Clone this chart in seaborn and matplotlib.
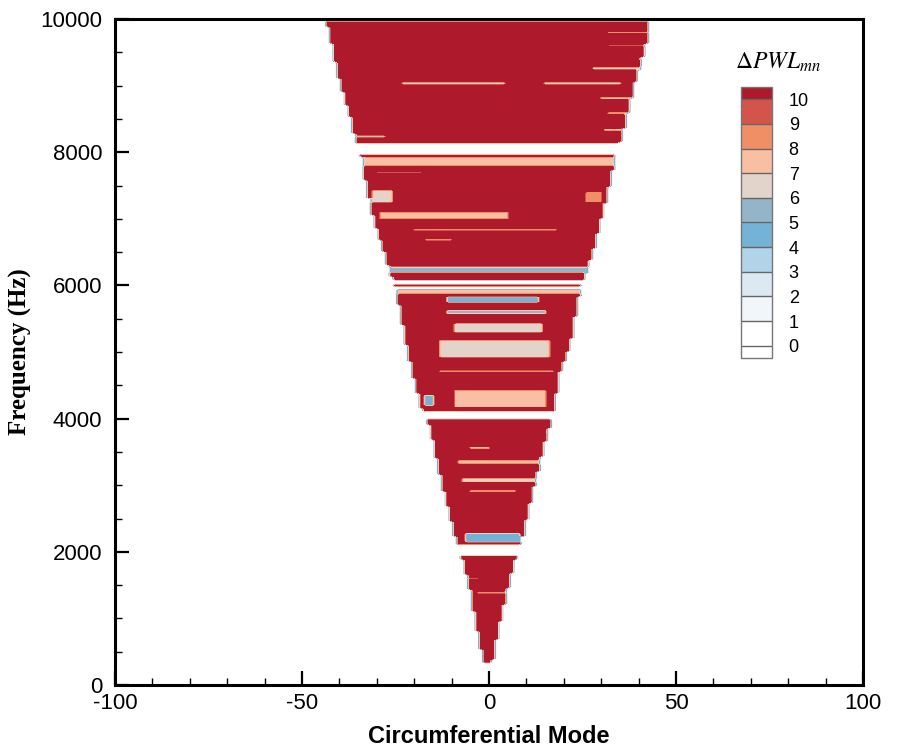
import numpy as np
import matplotlib
matplotlib.use("Agg")
import matplotlib.pyplot as plt
import seaborn as sns

# cut-on edge of the mode map (Hz, circumferential mode)
edge_freq = [330, 570, 930, 1425, 1875, 2200, 2670, 3180, 3875, 4175, 4685, 5170,
             5850, 6230, 6560, 7060, 7550, 7910, 8150, 8560, 9050, 9560, 9950]
edge_left = [-0.5, -1.6, -2.9, -4.5, -6.4, -8.3, -10.4, -12.6, -15.2, -17.6, -19.8, -21.7,
             -24.0, -26.0, -27.8, -30.5, -32.4, -33.2, -35.0, -36.6, -39.3, -41.2, -42.8]
edge_right = [0.3, 1.0, 2.4, 4.3, 6.4, 8.3, 10.2, 12.3, 15.5, 16.8, 18.4, 21.4,
              23.5, 25.7, 27.5, 29.7, 31.8, 33.2, 34.5, 36.4, 38.5, 41.2, 42.5]
base_level = 12  # most of the map is above 10 dB

# bands where dPWL drops (freq lo, freq hi, mode lo, mode hi, level)
band_flo = [7960, 6020, 5945, 3980, 1950,
            7800, 6200, 5870, 5740, 5560, 5300, 4920, 4680, 4170, 4200,
            3530, 3780, 3320, 3050, 2890, 2130, 1360, 1580,
            9020, 9020, 9780, 9580, 9380, 9250, 8800, 8560, 8320,
            8210, 7680, 7250, 7250, 6980, 6810, 6660]
band_fhi = [8140, 6080, 5985, 4100, 2100,
            7930, 6280, 5930, 5830, 5630, 5440, 5180, 4730, 4430, 4350,
            3590, 3820, 3380, 3110, 2930, 2280, 1400, 1620,
            9060, 9060, 9820, 9620, 9420, 9290, 8840, 8600, 8360,
            8250, 7720, 7430, 7400, 7100, 6850, 6700]
band_mlo = [-50, -50, -50, -50, -50,
            -50, -50, -24.6, -11, -11, -9.6, -13, -13, -9.6, -17,
            -5, 11, -8, -7, -5, -6, -3, -5,
            -23, 15, 32, 32, 30, 28, 30, 32, 31,
            -35, -30, -31, 25.7, -29, -20, -17]
band_mhi = [50, 50, 50, 50, 50,
            50, 50, 24.3, 13, 15, 14.4, 16, 17, 15.6, -15,
            0, 15, 13, 12.8, 7, 8.3, 4.5, -3,
            4, 35, 50, 50, 50, 50, 50, 50, 50,
            -28, -18, -25.6, 30.5, 5, 18, -10]
band_val = [0.5, 0.5, 0.5, 0.5, 0.5,
            7.5, 5.5, 7.5, 5, 6, 6.5, 7, 8.5, 7.5, 5,
            8, 8, 7.5, 7, 8.5, 4.5, 8.5, 8,
            7, 7, 6, 8, 8, 7, 8, 8, 8,
            8, 8, 7, 8.5, 8, 9, 9]

levels = list(range(0, 11))
tick_labels = [str(v) for v in levels]
level_colors = ["#ffffff", "#ffffff", "#f1f6fa", "#dce9f3", "#b1d4e8", "#74b2d8",
                "#93b4c9", "#e3d4cb", "#f8bfa2", "#f08e66", "#d3554a", "#ae1a2b"]

# build the grid
freq = np.arange(0, 10001, 25)
mode = np.arange(-100, 101)
M, F = np.meshgrid(mode, freq)
lo = np.interp(freq, edge_freq, edge_left)[:, None]
hi = np.interp(freq, edge_freq, edge_right)[:, None]
inside = (M >= np.round(lo)) & (M <= np.round(hi)) & (F >= edge_freq[0]) & (F <= edge_freq[-1])
Z = np.where(inside, float(base_level), 0.0)
for f0, f1, m0, m1, v in zip(band_flo, band_fhi, band_mlo, band_mhi, band_val):
    sel = inside & (F >= f0) & (F <= f1) & (M >= m0) & (M <= m1)
    Z[sel] = v

sns.set_theme(style="ticks")
plt.rcParams["font.family"] = ["Liberation Sans", "DejaVu Sans"]
plt.rcParams["mathtext.fontset"] = "stix"
plt.rcParams["axes.unicode_minus"] = False
plt.rcParams["text.color"] = "black"
plt.rcParams["axes.labelcolor"] = "black"
plt.rcParams["xtick.labelcolor"] = "black"
plt.rcParams["ytick.labelcolor"] = "black"

fig = plt.figure(figsize=(8.98, 7.55), dpi=100)
ax = fig.add_axes([0.128, 0.0927, 0.833, 0.882])
ax.set_axisbelow(False)

pal = sns.color_palette(level_colors)
cs = ax.contourf(mode, freq, Z, levels=levels, colors=pal, extend="both")

ax.set_xlim(-100, 100)
ax.set_ylim(0, 10000)
ax.set_xticks([-100, -50, 0, 50, 100])
ax.set_yticks([0, 2000, 4000, 6000, 8000, 10000])
ax.set_xticks(np.arange(-100, 101, 10), minor=True)
ax.set_yticks(np.arange(0, 10001, 500), minor=True)
ax.tick_params(which="major", direction="in", length=10, width=1.6, color="black",
               labelcolor="black", labelsize=16, top=False, right=False)
ax.tick_params(which="minor", direction="in", length=5, width=1.0, color="black",
               top=False, right=False)
ax.tick_params(axis="y", pad=9)
ax.tick_params(axis="x", pad=6)
for sp in ax.spines.values():
    sp.set_linewidth(2.2)
    sp.set_color("black")

ax.set_xlabel("Circumferential Mode", fontsize=17, fontweight="bold", labelpad=8,
              color="black")
ax.set_ylabel("Frequency (Hz)", fontsize=18, fontweight="bold", color="black",
              family=["Liberation Serif", "DejaVu Serif"], labelpad=6)

# legend bar, Tecplot style
cax = fig.add_axes([741 / 898, 1 - 358 / 755, 31 / 898, 271 / 755])
cb = fig.colorbar(cs, cax=cax, ticks=levels, drawedges=True,
                  extendfrac=0.05, extendrect=True)
cb.outline.set_edgecolor("#777777")
cb.outline.set_linewidth(1.0)
cb.dividers.set_color("#666666")
cb.dividers.set_linewidth(1.0)
cax.set_yticklabels(tick_labels)
cax.tick_params(length=0, labelsize=13, pad=12, labelcolor="black")
fig.text(0.866, 1 - 62 / 755, r"$\Delta PWL_{mn}$", fontsize=17, ha="center",
         va="center", color="black")

fig.savefig("out.png", dpi=100)
